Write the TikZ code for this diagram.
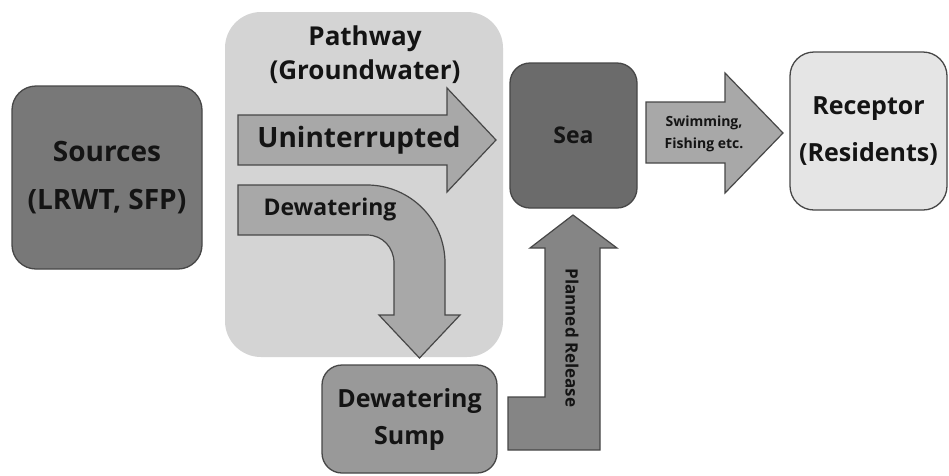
\documentclass[tikz,border=0pt]{standalone}
\usepackage{fontspec}
\setmainfont{Open Sans}
\definecolor{srcfill}{gray}{0.47}
\definecolor{seafill}{gray}{0.42}
\definecolor{pathfill}{gray}{0.83}
\definecolor{recfill}{gray}{0.90}
\definecolor{sumpfill}{gray}{0.60}
\definecolor{relfill}{gray}{0.52}
\definecolor{arrfill}{gray}{0.66}
\definecolor{edge}{gray}{0.28}
\definecolor{txt}{gray}{0.08}
\tikzset{
  box/.style={draw=edge, line width=1.3pt, rounded corners=24pt, inner sep=0pt, align=center, text=txt},
  blockarrow/.style={draw=edge, line width=1.2pt, fill=arrfill, line join=miter},
  lbl/.style={text=txt, align=center, inner sep=0pt},
}
\newcommand{\fsz}[2]{\bfseries\fontsize{#1}{#2}\selectfont}
\begin{document}
\begin{tikzpicture}[x=1pt,y=-1pt]
\path[use as bounding box, fill=white] (0,0) rectangle (949,475);

% Pathway background
\node[box, draw=none, fill=pathfill, rounded corners=36pt, minimum width=278pt, minimum height=345pt] (path) at (364,184.5) {};
\node[lbl, font=\fsz{26}{34}] (pathtitle) at (365,55) {Pathway\\(Groundwater)};

% Sources
\node[box, fill=srcfill, minimum width=190pt, minimum height=183pt, font=\fsz{28}{48}] (src) at (107,177.5) {Sources\\(LRWT, SFP)};

% Sea
\node[box, fill=seafill, rounded corners=20pt, minimum width=127pt, minimum height=145pt, font=\fsz{23}{26}] (sea) at (573.5,135.5) {Sea};

% Receptor
\node[box, fill=recfill, minimum width=157pt, minimum height=158pt, font=\fsz{25}{47}] (rec) at (868.5,131) {Receptor\\(Residents)};

% Dewatering sump
\node[box, fill=sumpfill, rounded corners=20pt, minimum width=175pt, minimum height=108pt, font=\fsz{25}{37}] (sump) at (409.5,419) {Dewatering\\Sump};

% Uninterrupted arrow
\draw[blockarrow] (238,115) -- (447,115) -- (447,88) -- (496,140) -- (447,192) -- (447,165) -- (238,165) -- cycle;
\node[lbl, font=\fsz{28}{30}] (unint) at (359,140) {Uninterrupted};

% Dewatering bent arrow
\draw[blockarrow] (238,185) -- (367,185) .. controls (410.1,185) and (445,219.9) .. (445,263)
  -- (445,315) -- (460,315) -- (419.5,358) -- (379,315) -- (394,315) -- (394,263)
  .. controls (394,247.5) and (382.5,235) .. (367,235) -- (238,235) -- cycle;
\node[lbl, font=\fsz{23}{25}] (dewat) at (330,210) {Dewatering};

% Swimming arrow
\draw[blockarrow] (646,102) -- (725,102) -- (725,73) -- (783,133) -- (725,193) -- (725,163) -- (646,163) -- cycle;
\node[lbl, font=\fsz{14}{22}] (swim) at (704,134) {Swimming,\\Fishing etc.};

% Planned release arrow
\draw[blockarrow, fill=relfill] (508,397) -- (545,397) -- (545,248) -- (530,248) -- (573,215) -- (617,248) -- (600,248) -- (600,450) -- (508,450) -- cycle;
\node[lbl, font=\fsz{17}{20}, rotate=-90] (rel) at (572,338) {Planned Release};
\end{tikzpicture}
\end{document}
